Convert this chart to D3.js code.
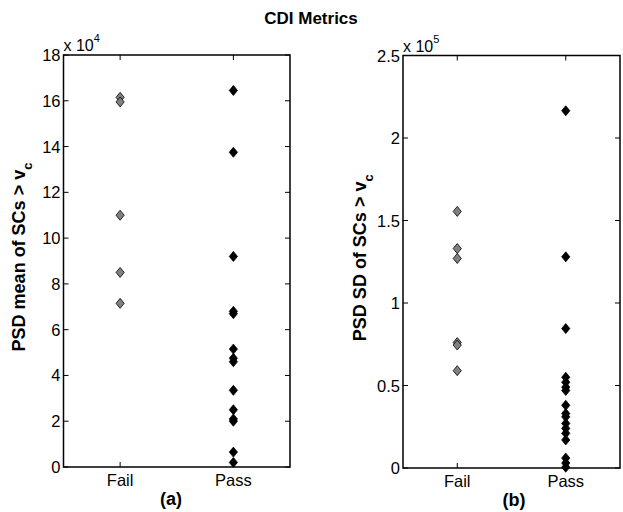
<!DOCTYPE html>
<html>
<head>
<meta charset="utf-8">
<script src="https://cdn.jsdelivr.net/npm/d3@7"></script>
<style>
  body { margin: 0; background: #fff; }
  svg { display: block; font-family: "Liberation Sans", Arial, sans-serif; }
  .tick-label { font-size: 16.5px; fill: #000; }
  .ylab { font-size: 18px; font-weight: bold; }
</style>
</head>
<body>
<svg id="chart" width="623" height="512"></svg>
<script>
const groups = ["Fail", "Pass"];

// panel (a): PSD mean, units of 1e4
const meanFail = [16.15, 15.95, 11.0, 8.5, 7.15];
const meanPass = [16.45, 13.75, 9.2, 6.8, 6.7, 5.15, 4.75, 4.6, 3.35, 2.5, 2.1, 2.0, 0.65, 0.2];
const meanTicks = [0, 2, 4, 6, 8, 10, 12, 14, 16, 18];

// panel (b): PSD SD, units of 1e5
const sdFail = [1.555, 1.33, 1.27, 0.76, 0.745, 0.59];
const sdPass = [2.165, 1.28, 0.845, 0.55, 0.52, 0.49, 0.47, 0.38, 0.33, 0.31, 0.27, 0.24, 0.21, 0.17, 0.06, 0.03, 0.005];
const sdTicks = [0, 0.5, 1, 1.5, 2, 2.5];
const sdTickLabels = ["0", "0.5", "1", "1.5", "2", "2.5"];

const svg = d3.select("#chart");

svg.append("text")
  .attr("x", 311).attr("y", 24)
  .attr("text-anchor", "middle")
  .attr("font-size", 17).attr("font-weight", "bold")
  .text("CDI Metrics");

// matlab-like diamond marker, a bit wider than d3's
const diamondType = {
  draw(ctx, size) {
    const h = Math.sqrt(size) / 2;
    const w = h * 0.82;
    ctx.moveTo(0, -h);
    ctx.lineTo(w, 0);
    ctx.lineTo(0, h);
    ctx.lineTo(-w, 0);
    ctx.closePath();
  }
};

function panel({ left, right, top, bottom, ymax, ticks, tickLabels, fail, pass, exp, ylabelMain, ylabelX, tag, tagX }) {
  const x = d3.scaleLinear().domain([0.5, 2.5]).range([left, right]);
  const y = d3.scaleLinear().domain([0, ymax]).range([bottom, top]);
  const g = svg.append("g");
  const tl = 5;

  // box
  g.append("rect")
    .attr("x", left).attr("y", top)
    .attr("width", right - left).attr("height", bottom - top)
    .attr("fill", "none").attr("stroke", "#000").attr("stroke-width", 1.5);

  // y ticks (inside, both sides)
  ticks.forEach((t, i) => {
    const yy = y(t);
    g.append("line").attr("x1", left).attr("x2", left + tl).attr("y1", yy).attr("y2", yy).attr("stroke", "#000");
    g.append("line").attr("x1", right).attr("x2", right - tl).attr("y1", yy).attr("y2", yy).attr("stroke", "#000");
    g.append("text").attr("class", "tick-label")
      .attr("x", left - 3).attr("y", yy + 6)
      .attr("text-anchor", "end")
      .text(tickLabels ? tickLabels[i] : t);
  });

  // x ticks
  groups.forEach((name, i) => {
    const xx = x(i + 1);
    g.append("line").attr("x1", xx).attr("x2", xx).attr("y1", bottom).attr("y2", bottom - tl).attr("stroke", "#000");
    g.append("line").attr("x1", xx).attr("x2", xx).attr("y1", top).attr("y2", top + tl).attr("stroke", "#000");
    g.append("text").attr("class", "tick-label")
      .attr("x", xx).attr("y", bottom + 19)
      .attr("text-anchor", "middle")
      .text(name);
  });

  // exponent label
  const ex = g.append("text").attr("x", left).attr("y", top - 4).attr("font-size", 16);
  ex.append("tspan").text("x 10");
  ex.append("tspan").attr("dy", -9).attr("font-size", 11).text(exp);

  // y label
  const yl = g.append("text").attr("class", "ylab")
    .attr("transform", `translate(${ylabelX},${(top + bottom) / 2 - 4}) rotate(-90)`)
    .attr("text-anchor", "middle");
  yl.append("tspan").text(ylabelMain);
  yl.append("tspan").attr("dy", 7).attr("font-size", 13).text("c");

  // subplot tag
  g.append("text")
    .attr("x", tagX).attr("y", bottom + 38)
    .attr("text-anchor", "middle")
    .attr("font-size", 18).attr("font-weight", "bold")
    .text(tag);

  const diamond = d3.symbol().type(diamondType).size(100);
  g.selectAll(".fail").data(fail).join("path")
    .attr("d", diamond)
    .attr("transform", d => `translate(${x(1)},${y(d)})`)
    .attr("fill", "#808080").attr("stroke", "#000").attr("stroke-width", 0.8);
  g.selectAll(".pass").data(pass).join("path")
    .attr("d", diamond)
    .attr("transform", d => `translate(${x(2)},${y(d)})`)
    .attr("fill", "#000").attr("stroke", "#000").attr("stroke-width", 0.8);
}

panel({
  left: 63.5, right: 290, top: 55, bottom: 467,
  ymax: 18, ticks: meanTicks, fail: meanFail, pass: meanPass, exp: "4",
  ylabelMain: "PSD mean of SCs > v", ylabelX: 25, tag: "(a)", tagX: 171
});

panel({
  left: 403, right: 620, top: 55.5, bottom: 468,
  ymax: 2.5, ticks: sdTicks, tickLabels: sdTickLabels, fail: sdFail, pass: sdPass, exp: "5",
  ylabelMain: "PSD SD of SCs > v", ylabelX: 366, tag: "(b)", tagX: 514
});
</script>
</body>
</html>
